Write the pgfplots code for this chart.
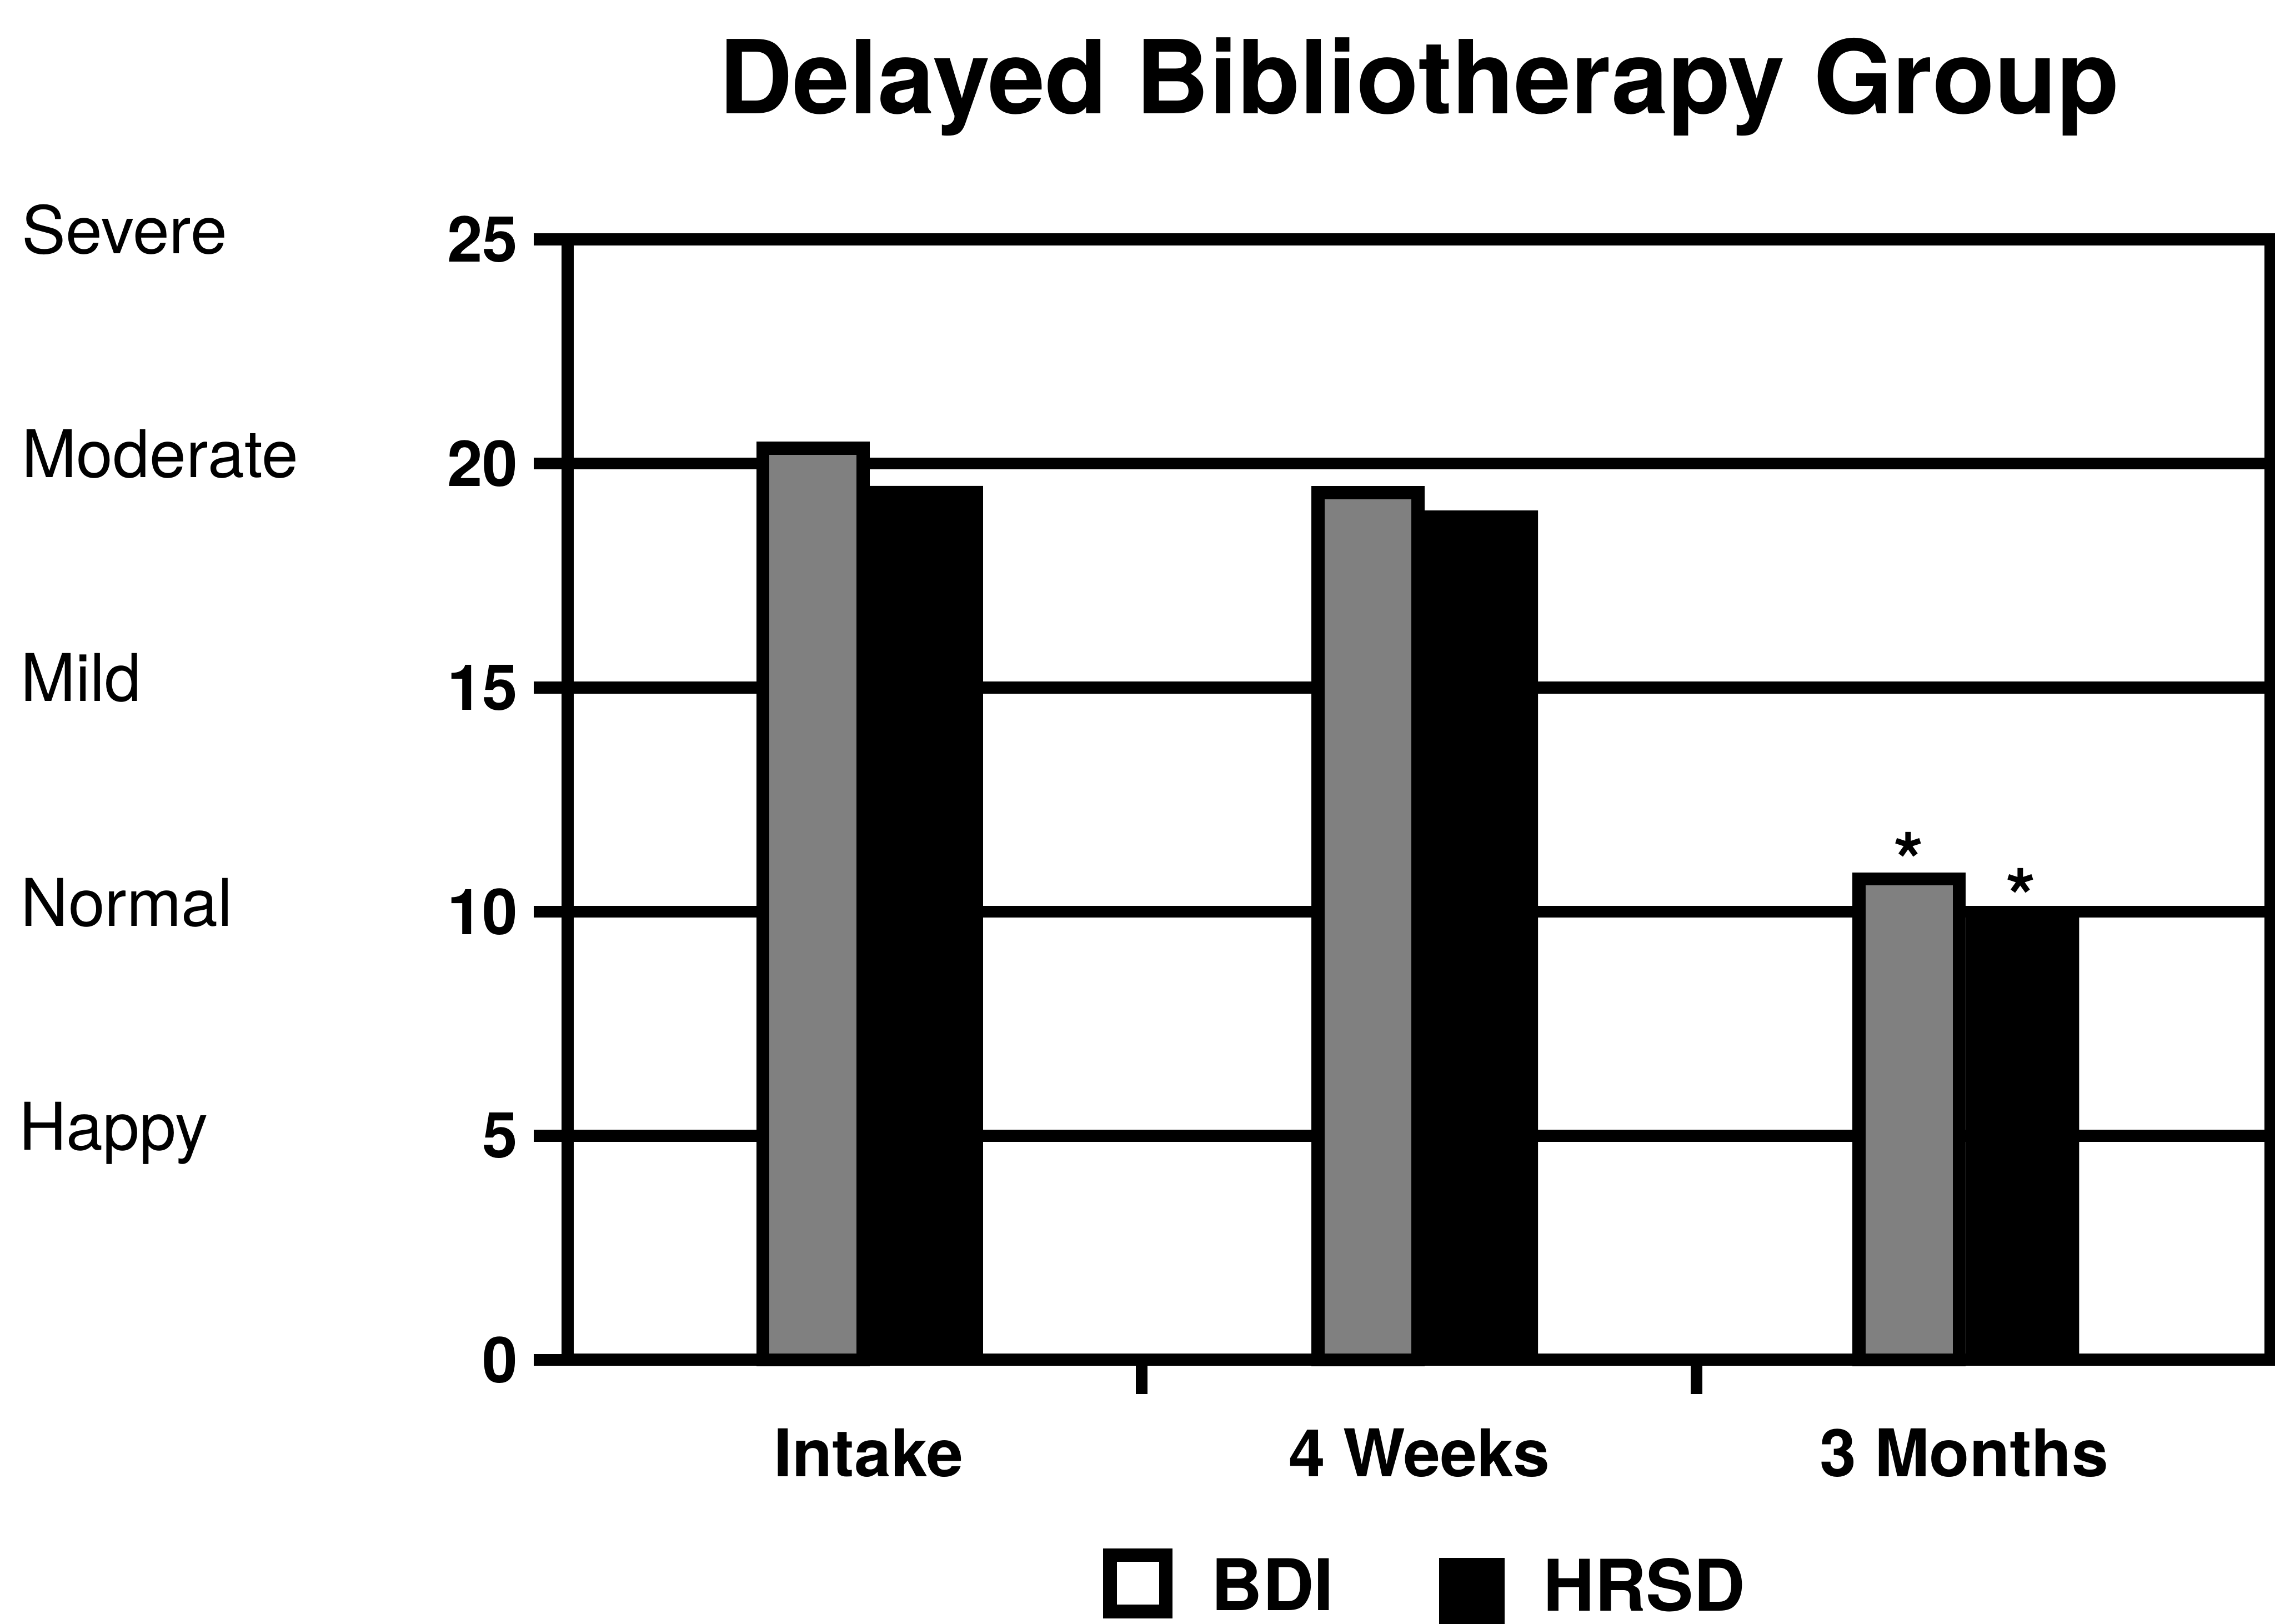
\documentclass[border=0pt]{standalone}
\usepackage{pgfplots}
\pgfplotsset{compat=1.18}
\usepackage{fontspec}
\setmainfont{TeX Gyre Heros}
\begin{document}
\begin{tikzpicture}
\path[use as bounding box] (0,0) rectangle (501.7pt,358.1pt);
\begin{axis}[
  at={(125.2pt,58.2pt)}, anchor=south west,
  scale only axis, width=375.5pt, height=247.1pt,
  xmin=-0.534, xmax=2.534, ymin=0, ymax=25,
  clip=false,
  axis line style={line width=2.7pt, black},
  tick style={line width=2.6pt, black},
  tick align=outside, major tick length=7.5pt,
  tick pos=left,
  xtick={0.5,1.5}, xticklabels={},
  ytick={0,5,10,15,20,25},
  ymajorgrids, grid style={line width=2.6pt, black},
  /pgf/number format/assume math mode=true,
  yticklabel style={font=\fontsize{14}{14}\selectfont\bfseries, inner sep=0pt, xshift=-3.3pt},
  legend style={at={(axis description cs:0.3145,-0.1683)}, anchor=north west,
    draw=none, fill=none, inner sep=0pt, outer sep=0pt,
    legend columns=-1,
    nodes={inner sep=0pt},
    font=\fontsize{15.7}{16}\selectfont\bfseries,
    /tikz/every odd column/.append style={column sep=8.5pt},
    /tikz/every even column/.append style={column sep=23.2pt}},
]
\addplot[ybar, bar width=22.1pt, bar shift=-12.5pt, fill=black!50, draw=black, line width=2.9pt,
  legend image code/.code={\draw[black, line width=3pt, fill=white] (1.5pt,-5.2pt) rectangle (13.8pt,7.2pt);}]
  coordinates {(0.01,20.34) (1.01,19.35) (1.985,10.73)};
\addlegendentry{BDI}
\addplot[ybar, bar width=25pt, bar shift=12.5pt, fill=black, draw=none,
  legend image code/.code={\fill[black] (0pt,-9pt) rectangle (14.5pt,6.6pt);}]
  coordinates {(0.01,19.5) (1.01,18.95) (1.985,10.1)};
\addlegendentry{HRSD}
\node[anchor=north, inner sep=0pt, font=\fontsize{17}{17}\selectfont\bfseries] at (axis cs:1.882,11.8) {*};
\node[anchor=north, inner sep=0pt, font=\fontsize{17}{17}\selectfont\bfseries] at (axis cs:2.084,10.99) {*};
\node[anchor=base, inner sep=0pt, font=\fontsize{14.5}{14.5}\selectfont\bfseries] at ([yshift=-25.7pt]axis cs:0.008,0) {Intake};
\node[anchor=base, inner sep=0pt, font=\fontsize{14.5}{14.5}\selectfont\bfseries] at ([yshift=-25.7pt]axis cs:1.0,0) {4 Weeks};
\node[anchor=base, inner sep=0pt, font=\fontsize{14.5}{14.5}\selectfont\bfseries] at ([yshift=-25.7pt]axis cs:1.982,0) {3 Months};
\end{axis}
\node[anchor=base, inner sep=0pt, font=\fontsize{22.5}{22.5}\selectfont\bfseries] at (313pt,333.1pt) {Delayed Bibliotherapy Group};
\begin{scope}[every node/.style={anchor=base west, inner sep=0pt, font=\fontsize{14.5}{14.5}\selectfont}]
\node at (4.6pt,302.2pt) {Severe};
\node at (4.6pt,252.8pt) {Moderate};
\node at (4.4pt,203.4pt) {Mild};
\node at (4.4pt,153.9pt) {Normal};
\node at (4.0pt,104.5pt) {Happy};
\end{scope}
\end{tikzpicture}
\end{document}
